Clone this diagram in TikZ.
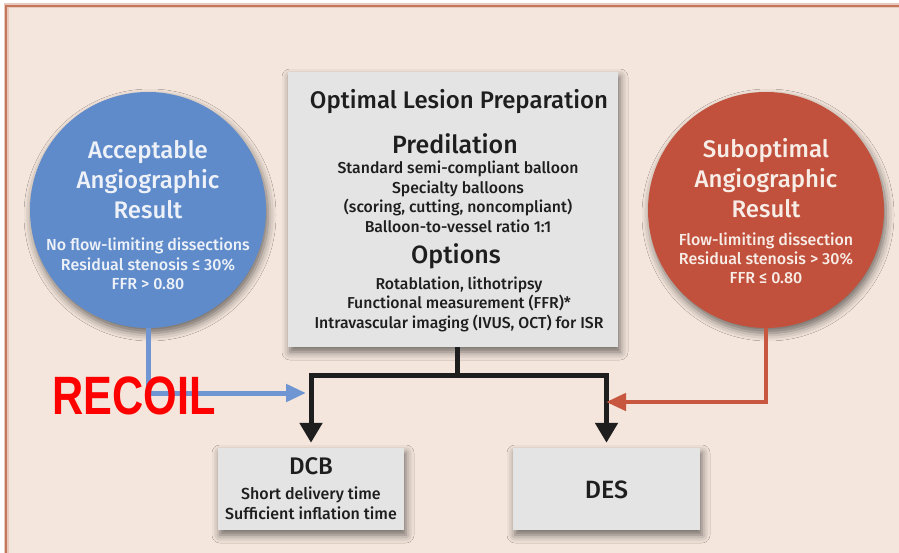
\documentclass[tikz,border=0pt]{standalone}
\usepackage{fontspec}
\setmainfont{Fira Sans}[UprightFont=* Medium, BoldFont=* SemiBold]
\newfontfamily\recoilfont{Liberation Sans}
\usetikzlibrary{arrows.meta,shadows.blur}

\definecolor{pagebg}{HTML}{F4E6DC}
\definecolor{framecol}{HTML}{C4775A}
\definecolor{boxfill}{HTML}{E4E4E4}
\definecolor{okblue}{HTML}{5F8BCB}
\definecolor{okarrow}{HTML}{6F95D3}
\definecolor{badred}{HTML}{C1513C}
\definecolor{badarrow}{HTML}{C8573F}
\definecolor{textdark}{HTML}{1E1E1E}
\definecolor{onblue}{HTML}{EEF2F8}
\definecolor{onred}{HTML}{F8ECE6}

\tikzset{
  softshadow/.style={blur shadow={shadow xshift=2pt, shadow yshift=-5pt,
      shadow blur radius=8pt, shadow opacity=55}},
  panel/.style={draw=none, fill=boxfill, rectangle, inner sep=0pt, softshadow},
  outcome/.style={draw=none, circle, inner sep=0pt, minimum size=236pt, softshadow},
  headtxt/.style={text=textdark, align=center, font=\fontsize{24}{28}\selectfont},
  subtxt/.style={text=textdark, align=center, font=\fontsize{15.8}{19.5}\selectfont},
  flow/.style={line width=5pt, -{Triangle[length=20pt, width=22pt]}},
}

\begin{document}
\begin{tikzpicture}[x=1pt, y=-1pt]
  % canvas and frame
  \useasboundingbox (0,0) rectangle (899,553);
  \fill[white] (0,0) rectangle (899,553);
  \begin{scope}
    \clip (0,0) rectangle (899,553);
    \draw[framecol!40, line width=5pt, fill=pagebg] (6,6) rectangle (910,570);
    \draw[framecol, line width=1.5pt] (6,6) rectangle (910,570);
  \end{scope}

  % boxes
  \node[panel, minimum width=330pt, minimum height=275pt] (prep) at (453,209.5) {};
  \node[panel, minimum width=186pt, minimum height=82pt] (dcb) at (311,489) {};
  \node[panel, minimum width=187pt, minimum height=82pt] (des) at (606.5,489) {};

  % outcome circles
  \node[outcome, fill=okblue] (acc) at (148,210) {};
  \node[outcome, fill=badred] (sub) at (766,210) {};

  % preparation text
  \node[headtxt] (prept) at (459,102) {Optimal Lesion Preparation};
  \node[headtxt, font=\fontsize{25}{28}\selectfont] (predt) at (455,144) {Predilation};
  \node[subtxt] (predl) at (458,197) {Standard semi-compliant balloon\\Specialty balloons\\(scoring, cutting, noncompliant)\\Balloon-to-vessel ratio 1:1};
  \node[headtxt, font=\fontsize{25}{28}\selectfont] (optt) at (456,256) {Options};
  \node[subtxt] (optl) at (459,304) {Rotablation, lithotripsy\\Functional measurement (FFR)*\\Intravascular imaging (IVUS, OCT) for ISR};

  % circle text
  \node[text=onblue, align=center, font=\fontsize{24}{30}\selectfont] (acct) at (148,180) {Acceptable\\Angiographic\\Result};
  \node[text=onblue, align=center, font=\fontsize{16}{19.5}\selectfont] (accl) at (148,264) {No flow-limiting dissections\\Residual stenosis ≤ 30\%\\FFR > 0.80};
  \node[text=onred, align=center, font=\fontsize{24}{30}\selectfont] (subt) at (766,178) {Suboptimal\\Angiographic\\Result};
  \node[text=onred, align=center, font=\fontsize{16}{19}\selectfont] (subl) at (766,258) {Flow-limiting dissection\\Residual stenosis > 30\%\\FFR ≤ 0.80};

  % device text
  \node[text=textdark, font=\fontsize{24}{27}\selectfont] (dcbt) at (311,466) {DCB};
  \node[subtxt, font=\fontsize{16}{19.5}\selectfont] (dcbl) at (311,503) {Short delivery time\\Sufficient inflation time};
  \node[text=textdark, font=\fontsize{25}{28}\selectfont] (dest) at (606.5,490) {DES};

  % connectors
  \coordinate (split) at (457,375);
  \coordinate (blueend) at (306,393);
  \coordinate (redend) at (606,402);
  \draw[line width=5pt, textdark] (prep.south -| split) -- (split);
  \draw[flow, textdark, shorten >=5pt] (split) -| (dcb.north);
  \draw[flow, textdark, shorten >=5pt] (split) -| (des.north);
  \draw[line width=5pt, okarrow, -{Triangle[length=20pt, width=17pt]}] (acc.south) |- (blueend);
  \draw[line width=4.5pt, badarrow, -{Triangle[length=20pt, width=17pt]}] (sub.south) |- (redend);

  % overlaid label
  \node[text=red, font=\recoilfont\bfseries\fontsize{54}{60}\selectfont, xscale=0.8, transform shape] (recoil) at (134,396) {RECOIL};
\end{tikzpicture}
\end{document}
